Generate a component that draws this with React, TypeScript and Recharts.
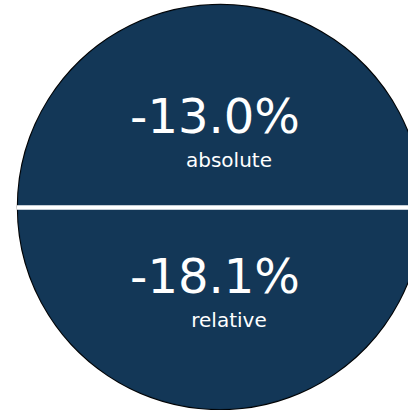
import { PieChart, Pie, Cell } from 'recharts'

// two headline figures, one per half of the disc
const metricNames = ['absolute', 'relative']
const metricChanges = [-13.0, -18.1]
const halfShares = [1, 1]

const chartData = metricNames.map((name, i) => ({
  name,
  change: metricChanges[i],
  share: halfShares[i],
}))

const outlineData = [{ name: 'outline', share: 1 }]

const DISC = '#133757'

function renderLabel(props: any) {
  const { cx, cy, index, outerRadius } = props
  const row = chartData[index]
  const top = index === 0
  const bigY = top ? cy - 74 : cy + 86
  const smallY = top ? cy - 40 : cy + 120
  return (
    <g key={`lbl-${index}`}>
      {top && (
        <line
          x1={cx - outerRadius - 1}
          x2={cx + outerRadius}
          y1={cy + 0.5}
          y2={cy + 0.5}
          stroke="#ffffff"
          strokeWidth={4.5}
        />
      )}
      <text
        x={cx - 5}
        y={bigY}
        textAnchor="middle"
        fill="#ffffff"
        fontSize={48}
        fontFamily="DejaVu Sans"
      >
        {`${row.change.toFixed(1)}%`}
      </text>
      <text
        x={cx + 9}
        y={smallY}
        textAnchor="middle"
        fill="#ffffff"
        fontSize={20}
        fontFamily="DejaVu Sans"
      >
        {row.name}
      </text>
    </g>
  )
}

export default function App() {
  return (
    <div style={{ position: 'absolute', left: 0, top: 0, width: 408, height: 410, background: '#fff' }}>
      <PieChart width={408} height={410} margin={{ top: 0, right: 0, bottom: 0, left: 0 }}>
        <Pie
          data={outlineData}
          dataKey="share"
          cx={220}
          cy={207}
          outerRadius={202}
          startAngle={0}
          endAngle={360}
          fill="none"
          stroke="#000000"
          strokeWidth={2.4}
          isAnimationActive={false}
        />
        <Pie
          data={chartData}
          dataKey="share"
          nameKey="name"
          cx={220}
          cy={207}
          outerRadius={202}
          startAngle={180}
          endAngle={-180}
          stroke="none"
          label={renderLabel}
          labelLine={false}
          isAnimationActive={false}
        >
          {chartData.map((d) => (
            <Cell key={d.name} fill={DISC} stroke={DISC} strokeWidth={0.5} />
          ))}
        </Pie>
      </PieChart>
    </div>
  )
}
